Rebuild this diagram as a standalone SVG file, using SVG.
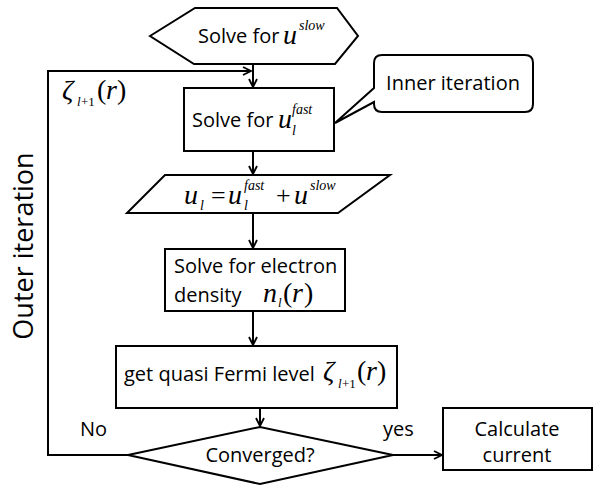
<svg xmlns="http://www.w3.org/2000/svg" width="600" height="495" viewBox="0 0 600 495">
<style>
.s{fill:#fff;stroke:#000;stroke-width:2}
.c{fill:none;stroke:#000;stroke-width:2}
.t{font-family:"Open Sans","Liberation Sans",sans-serif;font-size:20px;fill:#000}
.m{font-family:"Liberation Serif",serif;font-style:italic;fill:#000}
.r{font-family:"Liberation Serif",serif;fill:#000}
</style>
<defs>
<marker id="a" markerWidth="10" markerHeight="10" refX="9" refY="5" orient="auto" markerUnits="userSpaceOnUse">
<path d="M1,1 L9,5 L1,9" fill="none" stroke="#000" stroke-width="1.8"/>
</marker>
</defs>
<rect width="600" height="495" fill="#fff"/>
<g id="connectors">
<line class="c" x1="253" y1="64" x2="253" y2="87" marker-end="url(#a)"/>
<polyline class="c" points="128,455 48,455 48,71 251,71" marker-end="url(#a)"/>
<line class="c" x1="253" y1="151" x2="253" y2="174" marker-end="url(#a)"/>
<line class="c" x1="253" y1="213" x2="253" y2="248" marker-end="url(#a)"/>
<line class="c" x1="253" y1="311" x2="253" y2="345" marker-end="url(#a)"/>
<line class="c" x1="260" y1="408" x2="260" y2="426" marker-end="url(#a)"/>
<line class="c" x1="393" y1="455" x2="442" y2="455" marker-end="url(#a)"/>
</g>
<g id="start">
<polygon class="s" points="150,36 195,8 337,8 358,36 335,64 194,64"/>
<text class="t" x="198" y="43">Solve for</text>
<text class="m" x="283" y="44" font-size="28">u</text>
<text class="m" x="299" y="30" font-size="14">slow</text>
</g>
<g id="fast">
<rect class="s" x="184" y="88" width="150" height="63"/>
<text class="t" x="192" y="127">Solve for</text>
<text class="m" x="278" y="128" font-size="28">u</text>
<text class="m" x="292" y="114" font-size="14">fast</text>
<text class="m" x="292" y="135" font-size="14">l</text>
</g>
<g id="inner">
<path class="s" d="M382,55 H525 Q533,55 533,63 V104 Q533,112 525,112 H382 Q374,112 374,104 V102 L335,123 L374,88 V63 Q374,55 382,55 Z"/>
<text class="t" x="453" y="90" text-anchor="middle">Inner iteration</text>
</g>
<g id="sum">
<polygon class="s" points="165,175 390,175 338,213 127,213"/>
<text class="m" x="184" y="204" font-size="28">u</text>
<text class="m" x="200" y="210" font-size="14">l</text>
<text class="r" x="211" y="204" font-size="26">=</text>
<text class="m" x="228" y="204" font-size="28">u</text>
<text class="m" x="244" y="190" font-size="14">fast</text>
<text class="m" x="244" y="210" font-size="14">l</text>
<text class="r" x="276" y="204" font-size="26">+</text>
<text class="m" x="294" y="204" font-size="28">u</text>
<text class="m" x="310" y="190" font-size="14">slow</text>
</g>
<g id="density">
<rect class="s" x="165" y="249" width="180" height="62"/>
<text class="t" x="174" y="273">Solve for electron</text>
<text class="t" x="174" y="302">density</text>
<text class="m" x="263" y="302" font-size="28">n</text>
<text class="m" x="278" y="307" font-size="13">l</text>
<text class="r" x="283" y="302" font-size="28">(</text>
<text class="m" x="292" y="302" font-size="28">r</text>
<text class="r" x="304" y="302" font-size="28">)</text>
</g>
<g id="fermi">
<rect class="s" x="116" y="346" width="281" height="62"/>
<text class="t" x="124" y="381">get quasi Fermi level</text>
<text class="m" x="323" y="380" font-size="28">ζ</text>
<text class="m" x="338" y="388" font-size="13">l</text>
<text class="r" x="342" y="388" font-size="13">+1</text>
<text class="r" x="357" y="380" font-size="28">(</text>
<text class="m" x="366" y="380" font-size="28">r</text>
<text class="r" x="377" y="380" font-size="28">)</text>
</g>
<g id="loop-label">
<text class="m" x="62" y="99" font-size="28">ζ</text>
<text class="m" x="77" y="106" font-size="13">l</text>
<text class="r" x="81" y="106" font-size="13">+1</text>
<text class="r" x="97" y="99" font-size="28">(</text>
<text class="m" x="106" y="99" font-size="28">r</text>
<text class="r" x="117" y="99" font-size="28">)</text>
</g>
<g id="converged">
<polygon class="s" points="128,455 260,427 393,455 260,484"/>
<text class="t" x="260" y="462" text-anchor="middle">Converged?</text>
<text class="t" x="80" y="436">No</text>
<text class="t" x="383" y="436">yes</text>
</g>
<g id="current">
<rect class="s" x="443" y="408" width="149" height="62"/>
<text class="t" x="517" y="436" text-anchor="middle">Calculate</text>
<text class="t" x="517" y="462" text-anchor="middle">current</text>
</g>
<g id="outer">
<text class="t" x="0" y="0" style="font-size:27px" text-anchor="middle" transform="translate(33,246) rotate(-90)">Outer iteration</text>
</g>
</svg>
